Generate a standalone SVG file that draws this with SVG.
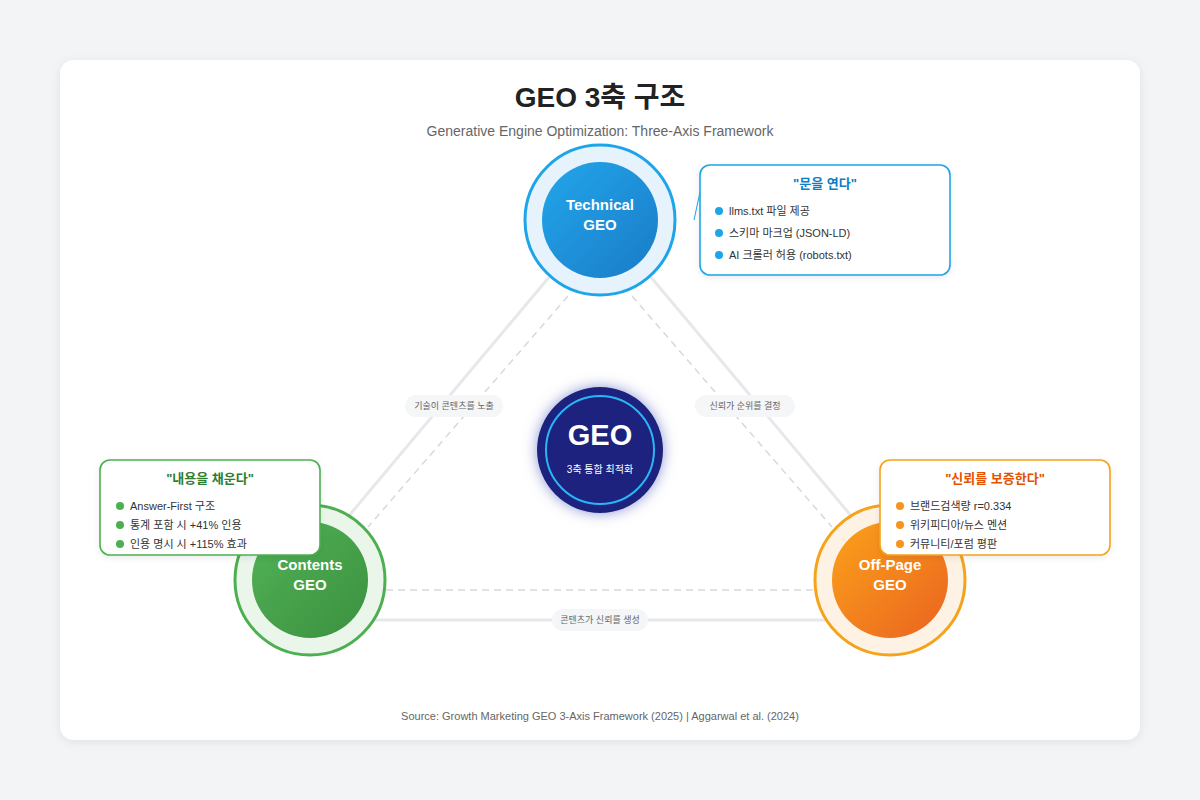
<svg xmlns="http://www.w3.org/2000/svg" width="1200" height="800" viewBox="0 0 1200 800">
<defs>
<style>
.t{font-family:"Liberation Sans","Noto Sans CJK KR",Arial,sans-serif}
.nodeTxt{font-size:15px;font-weight:bold;fill:#fff;text-anchor:middle}
.pill{fill:#f4f6f8}
.pillTxt{font-size:9px;fill:#666;text-anchor:middle}
.solid{stroke:#e6e8eb;stroke-width:3;fill:none}
.dash{stroke:#d6d9dd;stroke-width:1.5;stroke-dasharray:7 5;fill:none}
.box{fill:#fff;stroke-width:1.6}
.bt{font-size:13px;font-weight:bold;text-anchor:middle}
.it{font-size:11px;fill:#333}
</style>
<linearGradient id="gBlue" x1="0" y1="0" x2="1" y2="1"><stop offset="0" stop-color="#22a6ea"/><stop offset="1" stop-color="#1a7bc8"/></linearGradient>
<linearGradient id="gGreen" x1="0" y1="0" x2="1" y2="1"><stop offset="0" stop-color="#52b356"/><stop offset="1" stop-color="#3b903f"/></linearGradient>
<linearGradient id="gOrange" x1="0" y1="0" x2="1" y2="1"><stop offset="0" stop-color="#fba21a"/><stop offset="1" stop-color="#ea6320"/></linearGradient>
<filter id="cardSh" x="-5%" y="-5%" width="110%" height="110%"><feDropShadow dx="0" dy="2" stdDeviation="5" flood-color="#000" flood-opacity="0.08"/></filter>
<filter id="boxSh" x="-10%" y="-10%" width="120%" height="130%"><feDropShadow dx="0" dy="2" stdDeviation="3" flood-color="#000" flood-opacity="0.08"/></filter>
<filter id="glow" x="-50%" y="-50%" width="200%" height="200%"><feDropShadow dx="0" dy="0" stdDeviation="7" flood-color="#5c6bc0" flood-opacity="0.7"/></filter>
</defs>
<rect width="1200" height="800" fill="#f3f4f6"/>
<rect x="60" y="60" width="1080" height="680" rx="14" fill="#fff" filter="url(#cardSh)"/>
<text class="t" x="600" y="107" font-size="28" font-weight="bold" fill="#222" text-anchor="middle">GEO 3축 구조</text>
<text class="t" x="600" y="136" font-size="14" fill="#666" text-anchor="middle">Generative Engine Optimization: Three-Axis Framework</text>

<g id="connectors">
<line class="solid" x1="597" y1="220" x2="295" y2="580"/>
<line class="solid" x1="603" y1="220" x2="905" y2="580"/>
<line class="solid" x1="370" y1="620" x2="830" y2="620"/>
<line class="dash" x1="568" y1="296" x2="368" y2="527"/>
<line class="dash" x1="632" y1="296" x2="832" y2="527"/>
<line class="dash" x1="386" y1="590" x2="814" y2="590"/>
<line x1="700" y1="192" x2="694" y2="220" stroke="#1ea5e9" stroke-width="1"/>
<g id="label-tech-content"><rect class="pill" x="405" y="395" width="98" height="22" rx="11"/><text class="t pillTxt" x="454" y="409">기술이 콘텐츠를 노출</text></g>
<g id="label-trust-rank"><rect class="pill" x="695" y="395" width="100" height="22" rx="11"/><text class="t pillTxt" x="745" y="409">신뢰가 순위를 결정</text></g>
<g id="label-content-trust"><rect class="pill" x="552" y="609" width="96" height="22" rx="11"/><text class="t pillTxt" x="600" y="623">콘텐츠가 신뢰를 생성</text></g>
</g>

<g id="node-center">
<circle cx="600" cy="450" r="63" fill="#1a237e" filter="url(#glow)"/>
<circle cx="600" cy="450" r="54" fill="none" stroke="#29b6f6" stroke-width="2"/>
<text class="t" x="600" y="445" font-size="29" font-weight="bold" fill="#fff" text-anchor="middle">GEO</text>
<text class="t" x="600" y="473" font-size="10" fill="#fff" text-anchor="middle">3축 통합 최적화</text>
</g>

<g id="node-technical">
<circle cx="600" cy="220" r="75" fill="#e6f3fc" stroke="#1ea5e9" stroke-width="3"/>
<circle cx="600" cy="220" r="58" fill="url(#gBlue)"/>
<text class="t nodeTxt" x="600" y="210">Technical</text>
<text class="t nodeTxt" x="600" y="230">GEO</text>
</g>

<g id="node-contents">
<circle cx="310" cy="580" r="75" fill="#ebf6eb" stroke="#4caf50" stroke-width="3"/>
<circle cx="310" cy="580" r="58" fill="url(#gGreen)"/>
<text class="t nodeTxt" x="310" y="570">Contents</text>
<text class="t nodeTxt" x="310" y="590">GEO</text>
</g>

<g id="node-offpage">
<circle cx="890" cy="580" r="75" fill="#fdf2e4" stroke="#f5a31a" stroke-width="3"/>
<circle cx="890" cy="580" r="58" fill="url(#gOrange)"/>
<text class="t nodeTxt" x="890" y="570">Off-Page</text>
<text class="t nodeTxt" x="890" y="590">GEO</text>
</g>

<g id="callout-technical">
<rect class="box" x="700" y="165" width="250" height="110" rx="10" stroke="#1ea5e9" filter="url(#boxSh)"/>
<text class="t bt" x="825" y="188" fill="#0d7dc4">"문을 연다"</text>
<circle cx="719" cy="211" r="4" fill="#1ea5e9"/><text class="t it" x="729" y="215">llms.txt 파일 제공</text>
<circle cx="719" cy="233" r="4" fill="#1ea5e9"/><text class="t it" x="729" y="237">스키마 마크업 (JSON-LD)</text>
<circle cx="719" cy="255" r="4" fill="#1ea5e9"/><text class="t it" x="729" y="259">AI 크롤러 허용 (robots.txt)</text>
</g>

<g id="callout-contents">
<rect class="box" x="100" y="460" width="220" height="95" rx="10" stroke="#4caf50" filter="url(#boxSh)"/>
<text class="t bt" x="210" y="483" fill="#2e7d32">"내용을 채운다"</text>
<circle cx="120" cy="506" r="4" fill="#4caf50"/><text class="t it" x="130" y="510">Answer-First 구조</text>
<circle cx="120" cy="525" r="4" fill="#4caf50"/><text class="t it" x="130" y="529">통계 포함 시 +41% 인용</text>
<circle cx="120" cy="544" r="4" fill="#4caf50"/><text class="t it" x="130" y="548">인용 명시 시 +115% 효과</text>
</g>

<g id="callout-offpage">
<rect class="box" x="880" y="460" width="230" height="95" rx="10" stroke="#f5a31a" filter="url(#boxSh)"/>
<text class="t bt" x="995" y="483" fill="#e65100">"신뢰를 보증한다"</text>
<circle cx="900" cy="506" r="4" fill="#f7941d"/><text class="t it" x="910" y="510">브랜드검색량 r=0.334</text>
<circle cx="900" cy="525" r="4" fill="#f7941d"/><text class="t it" x="910" y="529">위키피디아/뉴스 멘션</text>
<circle cx="900" cy="544" r="4" fill="#f7941d"/><text class="t it" x="910" y="548">커뮤니티/포럼 평판</text>
</g>

<text class="t" x="600" y="720" font-size="11" fill="#666" text-anchor="middle">Source: Growth Marketing GEO 3-Axis Framework (2025) | Aggarwal et al. (2024)</text>
</svg>
